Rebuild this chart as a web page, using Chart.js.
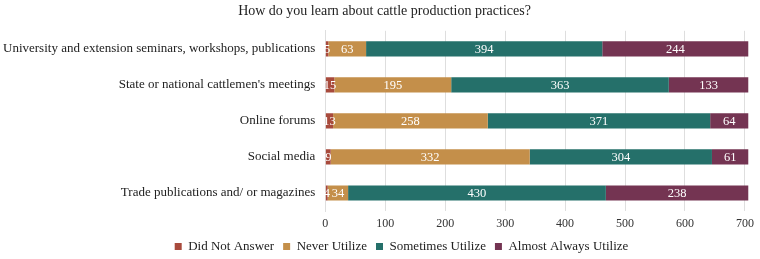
<!DOCTYPE html>
<html>
<head>
<meta charset="utf-8">
<script src="https://cdn.jsdelivr.net/npm/chart.js@4/dist/chart.umd.min.js"></script>
<style>
  html, body { margin: 0; padding: 0; background: #fff; }
  #wrap { width: 760px; height: 259px; }
</style>
</head>
<body>
<div id="wrap"><canvas id="barChart" width="760" height="259"></canvas></div>
<script>
const categories = [
  "University and extension seminars, workshops, publications",
  "State or national cattlemen's meetings",
  "Online forums",
  "Social media",
  "Trade publications and/ or magazines"
];
const didNotAnswer = [5, 15, 13, 9, 4];
const neverUtilize = [63, 195, 258, 332, 34];
const sometimesUtilize = [394, 363, 371, 304, 430];
const almostAlwaysUtilize = [244, 133, 64, 61, 238];
const xTicks = [0, 100, 200, 300, 400, 500, 600, 700];

const serif = "'Liberation Serif', 'Times New Roman', serif";

// draws the white numbers in the middle of each segment
const segmentLabels = {
  id: "segmentLabels",
  afterDatasetsDraw(chart) {
    const ctx = chart.ctx;
    ctx.save();
    ctx.font = "12.5px " + serif;
    ctx.fillStyle = "#ffffff";
    ctx.textAlign = "center";
    ctx.textBaseline = "middle";
    chart.data.datasets.forEach((ds, i) => {
      chart.getDatasetMeta(i).data.forEach((bar, j) => {
        const mid = (bar.x + bar.base) / 2;
        ctx.fillText(String(ds.data[j]), mid, bar.y + 1);
      });
    });
    ctx.restore();
  }
};

// nudge title and legend to the right, like the original
const nudge = {
  id: "nudge",
  afterLayout(chart) {
    chart.titleBlock.left += 12;
    chart.titleBlock.right += 12;
    chart.legend.left += 29;
    chart.legend.right += 29;
  }
};

const $bar = document.getElementById("barChart");

let chart = new Chart($bar, {
  type: "bar",
  data: {
    labels: categories,
    datasets: [
      { label: "Did Not Answer", data: didNotAnswer, backgroundColor: "#a84a3c" },
      { label: "Never Utilize", data: neverUtilize, backgroundColor: "#c48f4a" },
      { label: "Sometimes Utilize", data: sometimesUtilize, backgroundColor: "#25706a" },
      { label: "Almost Always Utilize", data: almostAlwaysUtilize, backgroundColor: "#743452" }
    ]
  },
  options: {
    indexAxis: "y",
    responsive: false,
    animation: false,
    categoryPercentage: 1,
    barPercentage: 0.42,
    layout: { padding: { left: -7, right: 8, top: 0, bottom: -4 } },
    scales: {
      x: {
        stacked: true,
        min: 0,
        max: 706,
        afterBuildTicks: (axis) => { axis.ticks = xTicks.map(v => ({ value: v })); },
        afterFit: (axis) => { axis.height = 20; },
        ticks: { color: "#333", font: { family: serif, size: 12 }, padding: 6 },
        grid: { color: "#dedede", drawTicks: false },
        border: { display: false }
      },
      y: {
        stacked: true,
        ticks: { color: "#222", font: { family: serif, size: 13 }, padding: 10 },
        grid: { display: false, drawTicks: false },
        border: { color: "#dedede" }
      }
    },
    plugins: {
      title: {
        display: true,
        text: "How do you learn about cattle production practices?",
        color: "#222",
        font: { family: serif, size: 14, weight: "normal" },
        padding: { top: 3, bottom: 11 }
      },
      legend: {
        position: "bottom",
        labels: {
          color: "#222",
          font: { family: serif, size: 13 },
          boxWidth: 7,
          boxHeight: 7,
          padding: 9
        }
      },
      tooltip: { enabled: false }
    }
  },
  plugins: [segmentLabels, nudge]
});
</script>
</body>
</html>
